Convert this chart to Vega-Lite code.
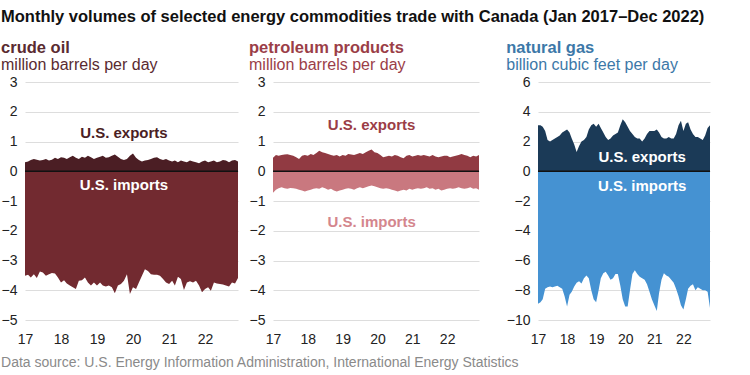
{
  "$schema": "https://vega.github.io/schema/vega-lite/v6.json",
  "padding": {"left": 1, "top": 9, "right": 0, "bottom": 0},
  "background": "white",
  "title": {"text": "Monthly volumes of selected energy commodities trade with Canada (Jan 2017\u2013Dec 2022)", "fontSize": 16.5, "color": "#111", "offset": 14},
  "data": {
    "format": {"parse": {"m": "date:'%Y-%m'"}},
    "values": [
      {"m":"2017-01","ce":0.30,"ci":-3.51,"pe":0.45,"pi":-0.72,"ge":3.1,"gi":-8.9},
      {"m":"2017-02","ce":0.33,"ci":-3.48,"pe":0.55,"pi":-0.62,"ge":3.1,"gi":-8.8},
      {"m":"2017-03","ce":0.38,"ci":-3.57,"pe":0.52,"pi":-0.57,"ge":3.0,"gi":-8.6},
      {"m":"2017-04","ce":0.41,"ci":-3.46,"pe":0.55,"pi":-0.54,"ge":2.7,"gi":-7.9},
      {"m":"2017-05","ce":0.39,"ci":-3.59,"pe":0.56,"pi":-0.57,"ge":2.1,"gi":-7.8},
      {"m":"2017-06","ce":0.36,"ci":-3.37,"pe":0.57,"pi":-0.59,"ge":2.0,"gi":-7.75},
      {"m":"2017-07","ce":0.38,"ci":-3.40,"pe":0.55,"pi":-0.56,"ge":2.1,"gi":-7.8},
      {"m":"2017-08","ce":0.41,"ci":-3.51,"pe":0.52,"pi":-0.57,"ge":2.2,"gi":-7.75},
      {"m":"2017-09","ce":0.36,"ci":-3.46,"pe":0.47,"pi":-0.59,"ge":2.3,"gi":-7.7},
      {"m":"2017-10","ce":0.39,"ci":-3.42,"pe":0.41,"pi":-0.62,"ge":2.4,"gi":-7.8},
      {"m":"2017-11","ce":0.45,"ci":-3.44,"pe":0.52,"pi":-0.65,"ge":2.6,"gi":-7.9},
      {"m":"2017-12","ce":0.41,"ci":-3.57,"pe":0.55,"pi":-0.68,"ge":2.7,"gi":-8.4},
      {"m":"2018-01","ce":0.47,"ci":-3.74,"pe":0.52,"pi":-0.65,"ge":2.8,"gi":-9.1},
      {"m":"2018-02","ce":0.45,"ci":-3.66,"pe":0.58,"pi":-0.62,"ge":2.6,"gi":-8.3},
      {"m":"2018-03","ce":0.41,"ci":-3.77,"pe":0.55,"pi":-0.59,"ge":2.2,"gi":-8.1},
      {"m":"2018-04","ce":0.47,"ci":-3.84,"pe":0.61,"pi":-0.57,"ge":1.8,"gi":-7.75},
      {"m":"2018-05","ce":0.52,"ci":-3.90,"pe":0.69,"pi":-0.59,"ge":1.3,"gi":-7.5},
      {"m":"2018-06","ce":0.45,"ci":-3.96,"pe":0.64,"pi":-0.54,"ge":1.7,"gi":-7.4},
      {"m":"2018-07","ce":0.41,"ci":-3.68,"pe":0.61,"pi":-0.57,"ge":2.0,"gi":-7.55},
      {"m":"2018-08","ce":0.49,"ci":-3.66,"pe":0.58,"pi":-0.62,"ge":2.1,"gi":-7.2},
      {"m":"2018-09","ce":0.45,"ci":-3.57,"pe":0.55,"pi":-0.59,"ge":2.3,"gi":-7.0},
      {"m":"2018-10","ce":0.52,"ci":-3.74,"pe":0.52,"pi":-0.65,"ge":2.8,"gi":-7.2},
      {"m":"2018-11","ce":0.47,"ci":-3.84,"pe":0.55,"pi":-0.68,"ge":3.1,"gi":-8.0},
      {"m":"2018-12","ce":0.41,"ci":-3.74,"pe":0.50,"pi":-0.65,"ge":3.2,"gi":-8.6},
      {"m":"2019-01","ce":0.45,"ci":-3.84,"pe":0.55,"pi":-0.62,"ge":3.0,"gi":-8.8},
      {"m":"2019-02","ce":0.49,"ci":-3.74,"pe":0.52,"pi":-0.59,"ge":3.2,"gi":-8.0},
      {"m":"2019-03","ce":0.52,"ci":-3.84,"pe":0.58,"pi":-0.57,"ge":2.9,"gi":-7.2},
      {"m":"2019-04","ce":0.45,"ci":-3.87,"pe":0.56,"pi":-0.59,"ge":2.6,"gi":-6.85},
      {"m":"2019-05","ce":0.47,"ci":-3.84,"pe":0.55,"pi":-0.62,"ge":2.3,"gi":-6.75},
      {"m":"2019-06","ce":0.52,"ci":-3.90,"pe":0.58,"pi":-0.57,"ge":2.1,"gi":-7.0},
      {"m":"2019-07","ce":0.56,"ci":-4.10,"pe":0.61,"pi":-0.54,"ge":2.2,"gi":-7.3},
      {"m":"2019-08","ce":0.49,"ci":-3.84,"pe":0.58,"pi":-0.57,"ge":2.4,"gi":-7.2},
      {"m":"2019-09","ce":0.41,"ci":-3.79,"pe":0.64,"pi":-0.54,"ge":2.5,"gi":-6.9},
      {"m":"2019-10","ce":0.38,"ci":-3.68,"pe":0.69,"pi":-0.50,"ge":2.6,"gi":-6.9},
      {"m":"2019-11","ce":0.41,"ci":-3.46,"pe":0.73,"pi":-0.48,"ge":3.1,"gi":-7.7},
      {"m":"2019-12","ce":0.52,"ci":-4.13,"pe":0.64,"pi":-0.50,"ge":3.5,"gi":-8.6},
      {"m":"2020-01","ce":0.60,"ci":-3.90,"pe":0.61,"pi":-0.54,"ge":3.3,"gi":-9.1},
      {"m":"2020-02","ce":0.45,"ci":-3.96,"pe":0.55,"pi":-0.57,"ge":3.0,"gi":-9.1},
      {"m":"2020-03","ce":0.38,"ci":-3.74,"pe":0.47,"pi":-0.59,"ge":2.7,"gi":-8.0},
      {"m":"2020-04","ce":0.33,"ci":-3.51,"pe":0.50,"pi":-0.57,"ge":2.5,"gi":-6.9},
      {"m":"2020-05","ce":0.36,"ci":-3.29,"pe":0.52,"pi":-0.59,"ge":2.3,"gi":-6.65},
      {"m":"2020-06","ce":0.38,"ci":-3.35,"pe":0.50,"pi":-0.62,"ge":2.2,"gi":-6.9},
      {"m":"2020-07","ce":0.41,"ci":-3.46,"pe":0.55,"pi":-0.65,"ge":2.2,"gi":-7.1},
      {"m":"2020-08","ce":0.45,"ci":-3.48,"pe":0.52,"pi":-0.68,"ge":2.0,"gi":-7.2},
      {"m":"2020-09","ce":0.47,"ci":-3.48,"pe":0.47,"pi":-0.65,"ge":2.2,"gi":-7.3},
      {"m":"2020-10","ce":0.41,"ci":-3.51,"pe":0.44,"pi":-0.62,"ge":2.5,"gi":-7.6},
      {"m":"2020-11","ce":0.38,"ci":-3.62,"pe":0.52,"pi":-0.65,"ge":2.7,"gi":-8.1},
      {"m":"2020-12","ce":0.41,"ci":-3.74,"pe":0.55,"pi":-0.59,"ge":2.7,"gi":-8.6},
      {"m":"2021-01","ce":0.36,"ci":-3.79,"pe":0.50,"pi":-0.62,"ge":2.7,"gi":-9.0},
      {"m":"2021-02","ce":0.33,"ci":-3.68,"pe":0.52,"pi":-0.59,"ge":2.8,"gi":-9.4},
      {"m":"2021-03","ce":0.36,"ci":-3.84,"pe":0.55,"pi":-0.57,"ge":2.6,"gi":-8.2},
      {"m":"2021-04","ce":0.30,"ci":-3.55,"pe":0.52,"pi":-0.59,"ge":2.3,"gi":-7.3},
      {"m":"2021-05","ce":0.36,"ci":-3.62,"pe":0.55,"pi":-0.57,"ge":2.2,"gi":-6.85},
      {"m":"2021-06","ce":0.33,"ci":-3.99,"pe":0.52,"pi":-0.54,"ge":2.2,"gi":-7.0},
      {"m":"2021-07","ce":0.30,"ci":-3.74,"pe":0.50,"pi":-0.59,"ge":2.3,"gi":-7.1},
      {"m":"2021-08","ce":0.36,"ci":-3.70,"pe":0.55,"pi":-0.57,"ge":2.2,"gi":-7.3},
      {"m":"2021-09","ce":0.33,"ci":-3.74,"pe":0.50,"pi":-0.62,"ge":2.2,"gi":-7.5},
      {"m":"2021-10","ce":0.30,"ci":-3.68,"pe":0.47,"pi":-0.59,"ge":2.5,"gi":-7.9},
      {"m":"2021-11","ce":0.27,"ci":-3.84,"pe":0.50,"pi":-0.65,"ge":3.1,"gi":-8.4},
      {"m":"2021-12","ce":0.33,"ci":-4.07,"pe":0.52,"pi":-0.62,"ge":3.4,"gi":-9.0},
      {"m":"2022-01","ce":0.36,"ci":-3.96,"pe":0.52,"pi":-0.59,"ge":2.7,"gi":-9.3},
      {"m":"2022-02","ce":0.30,"ci":-3.90,"pe":0.47,"pi":-0.57,"ge":3.2,"gi":-8.6},
      {"m":"2022-03","ce":0.33,"ci":-4.02,"pe":0.50,"pi":-0.59,"ge":3.3,"gi":-7.9},
      {"m":"2022-04","ce":0.36,"ci":-3.74,"pe":0.52,"pi":-0.57,"ge":2.8,"gi":-7.7},
      {"m":"2022-05","ce":0.30,"ci":-3.77,"pe":0.55,"pi":-0.54,"ge":2.5,"gi":-7.6},
      {"m":"2022-06","ce":0.33,"ci":-3.79,"pe":0.58,"pi":-0.57,"ge":2.3,"gi":-8.0},
      {"m":"2022-07","ce":0.38,"ci":-3.81,"pe":0.55,"pi":-0.59,"ge":2.3,"gi":-7.8},
      {"m":"2022-08","ce":0.36,"ci":-3.84,"pe":0.52,"pi":-0.57,"ge":2.2,"gi":-7.9},
      {"m":"2022-09","ce":0.30,"ci":-3.87,"pe":0.47,"pi":-0.54,"ge":2.1,"gi":-8.0},
      {"m":"2022-10","ce":0.36,"ci":-3.74,"pe":0.52,"pi":-0.59,"ge":2.4,"gi":-8.0},
      {"m":"2022-11","ce":0.38,"ci":-3.77,"pe":0.50,"pi":-0.57,"ge":2.9,"gi":-8.1},
      {"m":"2022-12","ce":0.33,"ci":-3.59,"pe":0.55,"pi":-0.62,"ge":3.1,"gi":-9.2}
    ]
  },
  "vconcat": [
    {
      "title": {"text": ["Data source: U.S. Energy Information Administration, International Energy Statistics"], "orient": "bottom", "fontSize": 14, "fontWeight": "normal", "color": "#8a8a8a", "offset": 10},
      "spacing": 26,
      "hconcat": [
        {
          "spacing": 10,
          "hconcat": [
            {
              "width": 213, "height": 238,
              "title": {"text": "crude oil", "subtitle": "million barrels per day", "color": "#5a2b31", "subtitleColor": "#5a2b31"},
              "encoding": {
                "x": {"type": "temporal", "scale": {"domain": [{"year": 2017, "month": 1, "date": 1}, {"year": 2022, "month": 12, "date": 1}], "nice": false},
                      "axis": {"title": null, "format": "%y", "labelOverlap": false, "values": [{"year": 2017, "month": 1, "date": 1}, {"year": 2018, "month": 1, "date": 1}, {"year": 2019, "month": 1, "date": 1}, {"year": 2020, "month": 1, "date": 1}, {"year": 2021, "month": 1, "date": 1}, {"year": 2022, "month": 1, "date": 1}]}},
                "y": {"type": "quantitative", "scale": {"domain": [-5, 3], "nice": false}, "axis": {"title": null, "labelOverlap": false, "values": [-5, -4, -3, -2, -1, 0, 1, 2, 3]}}
              },
              "layer": [
                {"mark": {"type": "area", "color": "#4b1e24"}, "encoding": {"x": {"field": "m"}, "y": {"field": "ce"}}},
                {"mark": {"type": "area", "color": "#722a30"}, "encoding": {"x": {"field": "m"}, "y": {"field": "ci"}}},
                {"data": {"values": [{"z": 0}]}, "mark": {"type": "rule", "color": "#111", "strokeWidth": 1.5}, "encoding": {"x": null, "y": {"field": "z"}}},
                {"data": {"values": [{"t": "2017", "z": 0}, {"t": "2018", "z": 0}, {"t": "2019", "z": 0}, {"t": "2020", "z": 0}, {"t": "2021", "z": 0}, {"t": "2022", "z": 0}], "format": {"parse": {"t": "date:'%Y'"}}},
                 "mark": {"type": "tick", "orient": "vertical", "color": "#111", "size": 10, "thickness": 1.5},
                 "encoding": {"x": {"field": "t"}, "y": {"field": "z"}}},
                {"data": {"values": [{"t": "2019-10", "v": 1.3}], "format": {"parse": {"t": "date:'%Y-%m'"}}}, "mark": {"type": "text", "text": "U.S. exports", "color": "#4b1e24", "fontSize": 15, "fontWeight": "bold"},
                 "encoding": {"x": {"field": "t"}, "y": {"field": "v"}}},
                {"data": {"values": [{"t": "2019-10", "v": -0.47}], "format": {"parse": {"t": "date:'%Y-%m'"}}}, "mark": {"type": "text", "text": "U.S. imports", "color": "white", "fontSize": 15, "fontWeight": "bold"},
                 "encoding": {"x": {"field": "t"}, "y": {"field": "v"}}}
              ]
            },
            {
              "width": 206, "height": 238,
              "title": {"text": "petroleum products", "subtitle": "million barrels per day", "color": "#9b3e48", "subtitleColor": "#9b3e48"},
              "encoding": {
                "x": {"type": "temporal", "scale": {"domain": [{"year": 2017, "month": 1, "date": 1}, {"year": 2022, "month": 12, "date": 1}], "nice": false},
                      "axis": {"title": null, "format": "%y", "labelOverlap": false, "values": [{"year": 2017, "month": 1, "date": 1}, {"year": 2018, "month": 1, "date": 1}, {"year": 2019, "month": 1, "date": 1}, {"year": 2020, "month": 1, "date": 1}, {"year": 2021, "month": 1, "date": 1}, {"year": 2022, "month": 1, "date": 1}]}},
                "y": {"type": "quantitative", "scale": {"domain": [-5, 3], "nice": false}, "axis": {"title": null, "labelOverlap": false, "values": [-5, -4, -3, -2, -1, 0, 1, 2, 3]}}
              },
              "layer": [
                {"mark": {"type": "area", "color": "#913a42"}, "encoding": {"x": {"field": "m"}, "y": {"field": "pe"}}},
                {"mark": {"type": "area", "color": "#c9787f"}, "encoding": {"x": {"field": "m"}, "y": {"field": "pi"}}},
                {"data": {"values": [{"z": 0}]}, "mark": {"type": "rule", "color": "#111", "strokeWidth": 1.5}, "encoding": {"x": null, "y": {"field": "z"}}},
                {"data": {"values": [{"t": "2017", "z": 0}, {"t": "2018", "z": 0}, {"t": "2019", "z": 0}, {"t": "2020", "z": 0}, {"t": "2021", "z": 0}, {"t": "2022", "z": 0}], "format": {"parse": {"t": "date:'%Y'"}}},
                 "mark": {"type": "tick", "orient": "vertical", "color": "#111", "size": 10, "thickness": 1.5},
                 "encoding": {"x": {"field": "t"}, "y": {"field": "z"}}},
                {"data": {"values": [{"t": "2019-11", "v": 1.55}], "format": {"parse": {"t": "date:'%Y-%m'"}}}, "mark": {"type": "text", "text": "U.S. exports", "color": "#9b3d46", "fontSize": 15, "fontWeight": "bold"},
                 "encoding": {"x": {"field": "t"}, "y": {"field": "v"}}},
                {"data": {"values": [{"t": "2019-11", "v": -1.7}], "format": {"parse": {"t": "date:'%Y-%m'"}}}, "mark": {"type": "text", "text": "U.S. imports", "color": "#d4868d", "fontSize": 15, "fontWeight": "bold"},
                 "encoding": {"x": {"field": "t"}, "y": {"field": "v"}}}
              ]
            }
          ]
        },
        {
          "width": 172, "height": 238,
          "title": {"text": "natural gas", "subtitle": "billion cubic feet per day", "color": "#3c78a8", "subtitleColor": "#3c78a8"},
          "encoding": {
            "x": {"type": "temporal", "scale": {"domain": [{"year": 2017, "month": 1, "date": 1}, {"year": 2022, "month": 12, "date": 1}], "nice": false},
                  "axis": {"title": null, "format": "%y", "labelOverlap": false, "values": [{"year": 2017, "month": 1, "date": 1}, {"year": 2018, "month": 1, "date": 1}, {"year": 2019, "month": 1, "date": 1}, {"year": 2020, "month": 1, "date": 1}, {"year": 2021, "month": 1, "date": 1}, {"year": 2022, "month": 1, "date": 1}]}},
            "y": {"type": "quantitative", "scale": {"domain": [-10, 6], "nice": false}, "axis": {"title": null, "labelOverlap": false, "values": [-10, -8, -6, -4, -2, 0, 2, 4, 6]}}
          },
          "layer": [
            {"mark": {"type": "area", "color": "#1b3a57"}, "encoding": {"x": {"field": "m"}, "y": {"field": "ge"}}},
            {"mark": {"type": "area", "color": "#4592d2"}, "encoding": {"x": {"field": "m"}, "y": {"field": "gi"}}},
            {"data": {"values": [{"z": 0}]}, "mark": {"type": "rule", "color": "#111", "strokeWidth": 1.5}, "encoding": {"x": null, "y": {"field": "z"}}},
            {"data": {"values": [{"t": "2017", "z": 0}, {"t": "2018", "z": 0}, {"t": "2019", "z": 0}, {"t": "2020", "z": 0}, {"t": "2021", "z": 0}, {"t": "2022", "z": 0}], "format": {"parse": {"t": "date:'%Y'"}}},
             "mark": {"type": "tick", "orient": "vertical", "color": "#111", "size": 10, "thickness": 1.5},
             "encoding": {"x": {"field": "t"}, "y": {"field": "z"}}},
            {"data": {"values": [{"t": "2020-08", "v": 0.95}], "format": {"parse": {"t": "date:'%Y-%m'"}}}, "mark": {"type": "text", "text": "U.S. exports", "color": "white", "fontSize": 15, "fontWeight": "bold"},
             "encoding": {"x": {"field": "t"}, "y": {"field": "v"}}},
            {"data": {"values": [{"t": "2020-08", "v": -1.0}], "format": {"parse": {"t": "date:'%Y-%m'"}}}, "mark": {"type": "text", "text": "U.S. imports", "color": "white", "fontSize": 15, "fontWeight": "bold"},
             "encoding": {"x": {"field": "t"}, "y": {"field": "v"}}}
          ]
        }
      ]
    }
  ],
  "config": {
    "view": {"stroke": null},
    "font": "Liberation Sans",
    "title": {"font": "Liberation Sans", "fontSize": 16.5, "fontWeight": "bold", "anchor": "start", "frame": "bounds", "subtitleFont": "Liberation Sans", "subtitleFontSize": 16, "subtitleFontWeight": "normal", "subtitlePadding": 1, "offset": 2},
    "axis": {"labelFont": "Liberation Sans", "labelFontSize": 14, "labelColor": "#222", "domain": false, "ticks": false, "gridColor": "#dddddd", "labelPadding": 8, "labelOverlap": false},
    "axisX": {"grid": false, "labelFlush": false, "labelOverlap": false, "labelPadding": 12},
    "text": {"font": "Liberation Sans"}
  }
}
